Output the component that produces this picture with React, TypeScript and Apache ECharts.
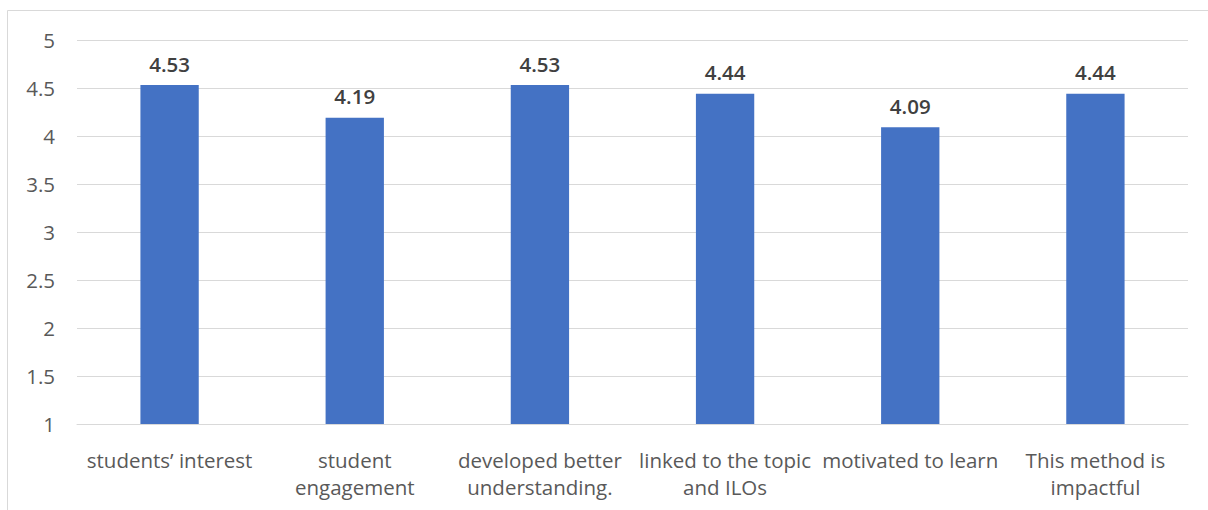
import React, { useEffect, useRef } from "react";
import * as echarts from "echarts";

const categories = [
  "students’ interest",
  "student\nengagement",
  "developed better\nunderstanding.",
  "linked to the topic\nand ILOs",
  "motivated to learn",
  "This method is\nimpactful",
];
const values = [4.53, 4.19, 4.53, 4.44, 4.09, 4.44];
const yMin = 1;
const yMax = 5;
const yInterval = 0.5;

const FONT = "'Open Sans', Calibri, sans-serif";

export default function App() {
  const ref = useRef<HTMLDivElement>(null);
  useEffect(() => {
    document.body.style.margin = "0";
    const chart = echarts.init(ref.current!, null, { renderer: "svg" });
    chart.setOption({
      animation: false,
      backgroundColor: "#ffffff",
      graphic: [
        {
          type: "rect",
          shape: { x: 7.5, y: 10.5, width: 1230, height: 540 },
          style: { fill: "none", stroke: "#d9d9d9", lineWidth: 1 },
          silent: true,
        },
      ],
      grid: { left: 77, right: 20, top: 40, bottom: 86, containLabel: false },
      xAxis: {
        type: "category",
        data: categories,
        axisLine: { show: true, lineStyle: { color: "#d9d9d9", width: 1 } },
        axisTick: { show: false },
        axisLabel: {
          interval: 0,
          color: "#595959",
          fontFamily: FONT,
          fontSize: 20.5,
          lineHeight: 27,
          margin: 22,
        },
      },
      yAxis: {
        type: "value",
        min: yMin,
        max: yMax,
        interval: yInterval,
        axisLine: { show: false },
        axisTick: { show: false },
        splitLine: { lineStyle: { color: "#d9d9d9", width: 1 } },
        axisLabel: {
          color: "#595959",
          fontFamily: FONT,
          fontSize: 20.5,
          margin: 22,
        },
      },
      series: [
        {
          type: "bar",
          data: values,
          barWidth: "31.5%",
          itemStyle: { color: "#4472C4" },
          label: {
            show: true,
            position: "top",
            distance: 11,
            color: "#404040",
            fontFamily: FONT,
            fontWeight: 600,
            fontSize: 20.5,
          },
        },
      ],
    });
    return () => chart.dispose();
  }, []);
  return <div ref={ref} style={{ width: 1208, height: 510 }} />;
}
